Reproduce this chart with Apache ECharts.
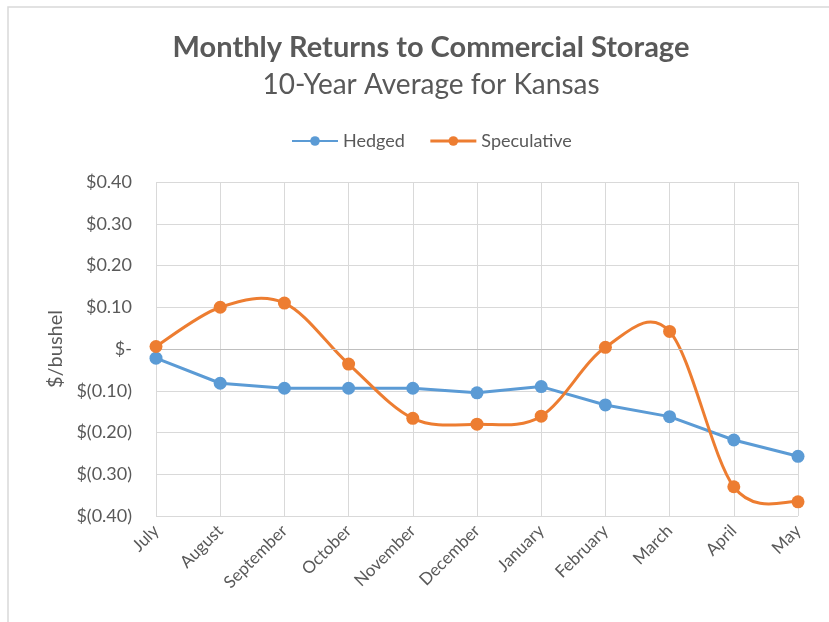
<!DOCTYPE html>
<html>
<head>
<meta charset="utf-8">
<script src="https://cdn.jsdelivr.net/npm/echarts@6/dist/echarts.min.js"></script>
<style>
  html, body { margin: 0; padding: 0; background: #fff; }
  #chart { width: 829px; height: 622px; }
</style>
</head>
<body>
<div id="chart"></div>
<script>
// 数据
const months = ['July', 'August', 'September', 'October', 'November', 'December',
  'January', 'February', 'March', 'April', 'May']
const hedged = [-0.022, -0.082, -0.094, -0.094, -0.094, -0.105, -0.090, -0.134, -0.162, -0.218, -0.257]
const speculative = [0.006, 0.100, 0.110, -0.036, -0.166, -0.180, -0.161, 0.004, 0.042, -0.330, -0.366]

const font = 'Lato, "Open Sans", sans-serif'
const grey = '#595959'
const orange = '#ED7D31'

const fmt = (v) => {
  if (Math.abs(v) < 1e-9) return '$-'
  if (v < 0) return '$(' + Math.abs(v).toFixed(2) + ')'
  return '$' + v.toFixed(2)
}

// Excel 风格的平滑曲线（Catmull-Rom），每段一条贝塞尔
const renderSmoothSeg = (params, api) => {
  const i = params.dataIndex
  const n = speculative.length
  if (i >= n - 1) return null
  const pt = (k) => api.coord([Math.max(0, Math.min(n - 1, k)), speculative[Math.max(0, Math.min(n - 1, k))]])
  const p0 = pt(i - 1), p1 = pt(i), p2 = pt(i + 1), p3 = pt(i + 2)
  return {
    type: 'bezierCurve',
    shape: {
      x1: p1[0], y1: p1[1],
      cpx1: p1[0] + (p2[0] - p0[0]) / 6, cpy1: p1[1] + (p2[1] - p0[1]) / 6,
      cpx2: p2[0] - (p3[0] - p1[0]) / 6, cpy2: p2[1] - (p3[1] - p1[1]) / 6,
      x2: p2[0], y2: p2[1]
    },
    style: { fill: 'none', stroke: orange, lineWidth: 3 }
  }
}

const chart = echarts.init(document.getElementById('chart'))
chart.setOption({
  backgroundColor: '#fff',
  animation: false,
  graphic: [{
    type: 'rect',
    shape: { x: 8, y: 7, width: 840, height: 640 },
    style: { fill: 'none', stroke: '#d9d9d9', lineWidth: 1.5 },
    silent: true
  }],
  title: [{
    text: 'Monthly Returns to Commercial Storage',
    left: 426, top: 28, textAlign: 'center',
    textStyle: { fontFamily: font, fontSize: 29, fontWeight: 'bold', color: grey }
  }, {
    text: '10-Year Average for Kansas',
    left: 426, top: 66, textAlign: 'center',
    textStyle: { fontFamily: font, fontSize: 28, fontWeight: 'normal', color: grey }
  }],
  legend: {
    top: 127, left: 286, itemGap: 24, itemWidth: 46, itemHeight: 12,
    textStyle: { fontFamily: font, fontSize: 18, color: grey },
    data: ['Hedged', { name: 'Speculative', lineStyle: { opacity: 1, width: 3, color: orange } }]
  },
  grid: { left: 156, right: 31, top: 182, bottom: 106 },
  xAxis: {
    type: 'category',
    data: months,
    boundaryGap: false,
    axisLine: { show: false },
    axisTick: { show: false },
    splitLine: { show: true, lineStyle: { color: '#d9d9d9', width: 1 } },
    axisLabel: { rotate: 45, margin: 12, fontFamily: font, fontSize: 17, color: grey }
  },
  yAxis: {
    type: 'value',
    min: -0.4, max: 0.4, interval: 0.1,
    name: '$/bushel',
    nameLocation: 'middle',
    nameGap: 90,
    nameTextStyle: { fontFamily: font, fontSize: 20, color: grey },
    axisLine: { show: false },
    axisTick: { show: false },
    splitLine: { lineStyle: { color: '#d9d9d9', width: 1 } },
    axisLabel: { formatter: fmt, margin: 24, fontFamily: font, fontSize: 18, color: grey }
  },
  series: [{
    name: 'Hedged',
    type: 'line',
    data: hedged,
    symbol: 'circle',
    symbolSize: 13,
    color: '#5B9BD5',
    lineStyle: { width: 3 },
    markLine: {
      silent: true, symbol: 'none', label: { show: false },
      lineStyle: { color: '#bfbfbf', type: 'solid', width: 1 },
      data: [{ yAxis: 0 }]
    },
    z: 3
  }, {
    name: 'Speculative',
    type: 'line',
    data: speculative,
    symbol: 'circle',
    symbolSize: 13,
    color: orange,
    lineStyle: { width: 3, opacity: 0 },
    z: 5
  }, {
    name: 'Speculative curve',
    type: 'custom',
    data: speculative.map((v, i) => [i, v]),
    encode: { x: 0, y: 1 },
    renderItem: renderSmoothSeg,
    silent: true,
    z: 4
  }]
})
</script>
</body>
</html>
